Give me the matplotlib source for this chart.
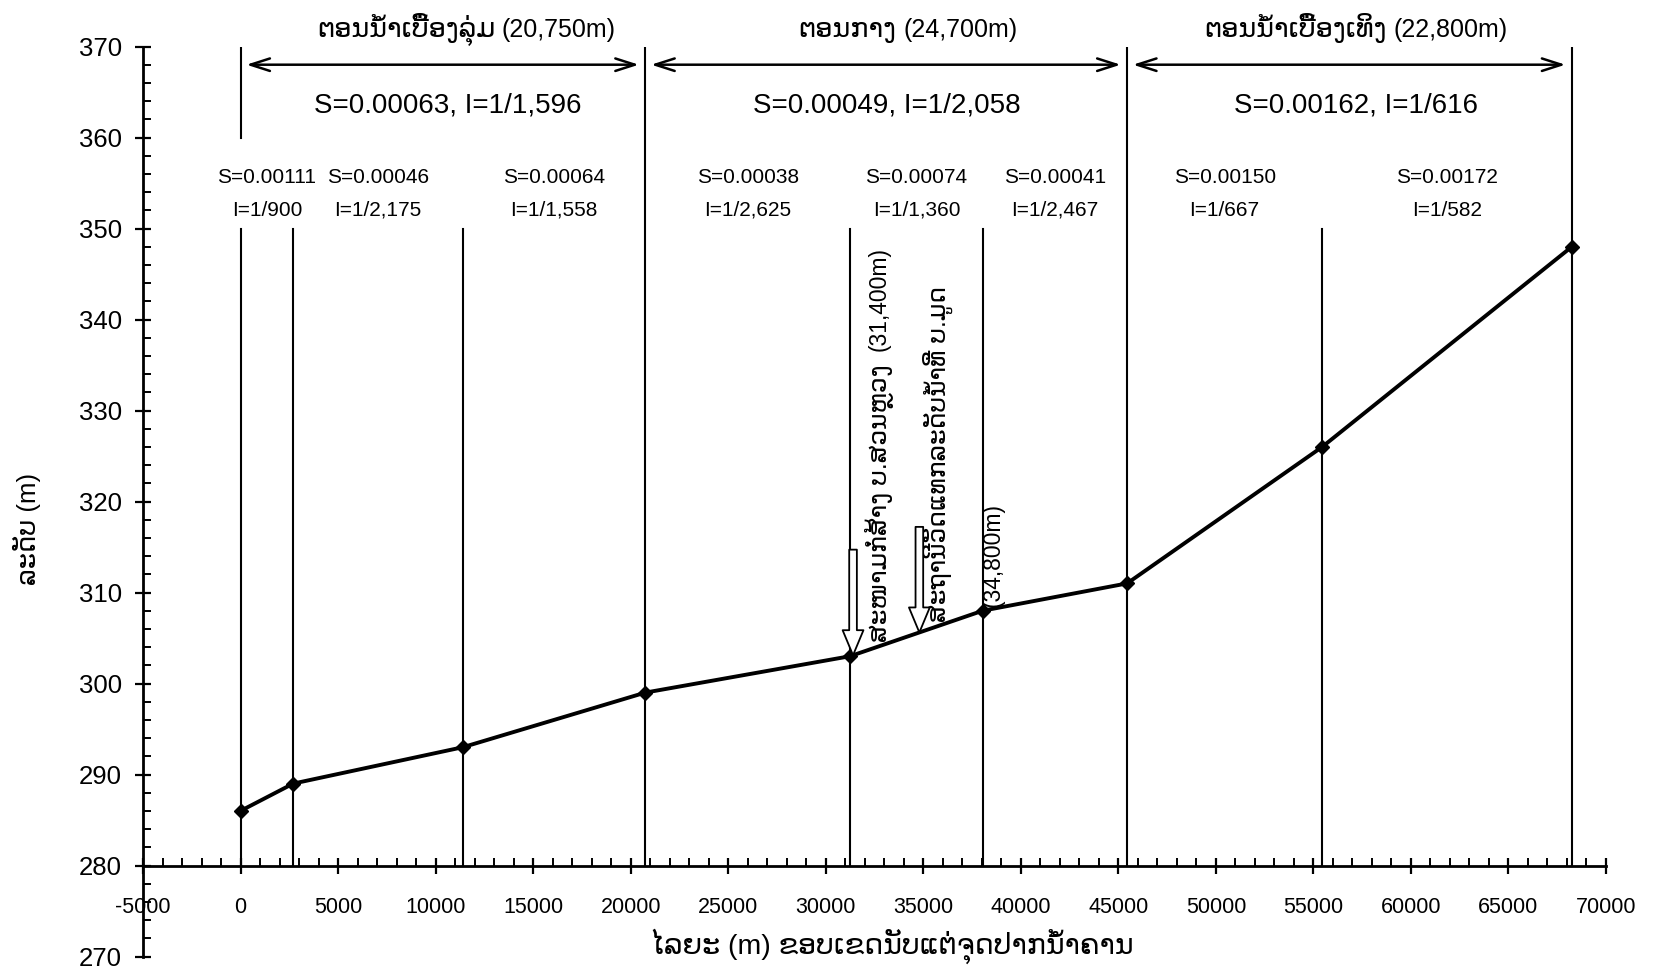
import matplotlib
matplotlib.use("Agg")
import matplotlib.pyplot as plt
import numpy as np
from matplotlib.ticker import MultipleLocator

# river profile: distance from river mouth (m) and bed elevation (m)
distance = [0, 2700, 11400, 20750, 31250, 38050, 45450, 55450, 68250]
elevation = [286, 289, 293, 299, 303, 308, 311, 326, 348]

# sub-reach slopes
sub_slope = ["S=0.00111", "S=0.00046", "S=0.00064", "S=0.00038", "S=0.00074",
             "S=0.00041", "S=0.00150", "S=0.00172"]
sub_incl = ["I=1/900", "I=1/2,175", "I=1/1,558", "I=1/2,625", "I=1/1,360",
            "I=1/2,467", "I=1/667", "I=1/582"]

# main reaches
reach_bounds = [0, 20750, 45450, 68250]
reach_names = ["ຕອນນ້ຳເບື້ອງລຸ່ມ", "ຕອນກາງ", "ຕອນນ້ຳເບື້ອງເທິງ"]
reach_lengths = ["(20,750m)", "(24,700m)", "(22,800m)"]
reach_slopes = ["S=0.00063, I=1/1,596", "S=0.00049, I=1/2,058", "S=0.00162, I=1/616"]

# point markers along the river
site_dist = [31400, 34800]
site_names = ["ສະໜາມກໍ່ສ້າງ ບ.ສວນຫຼວງ", "ສະຖານີວັດແທກລະດັບນ້ຳທີ່ ບ.ມູດ"]
site_chainage = ["(31,400m)", "(34,800m)"]

FONT = ["Liberation Sans", "DejaVu Sans"]
plt.rcParams["font.family"] = FONT
plt.rcParams["axes.unicode_minus"] = False

fig = plt.figure(figsize=(16.61, 9.74), dpi=100)
ax = fig.add_axes([143 / 1661, 1 - 956.5 / 974, 1463 / 1661, 910 / 974])

ax.set_xlim(-5000, 70000)
ax.set_ylim(270, 370)

for s in ("top", "right"):
    ax.spines[s].set_visible(False)
ax.spines["bottom"].set_position(("data", 280))
for s in ("bottom", "left"):
    ax.spines[s].set_linewidth(2.0)

ax.xaxis.set_major_locator(MultipleLocator(5000))
ax.xaxis.set_minor_locator(MultipleLocator(1000))
ax.yaxis.set_major_locator(MultipleLocator(10))
ax.yaxis.set_minor_locator(MultipleLocator(2))
ax.tick_params(which="major", direction="inout", length=12, width=1.6)
ax.tick_params(which="minor", direction="in", length=6, width=1.4)
ax.tick_params(axis="x", which="major", labelsize=15.5, pad=17)
ax.tick_params(axis="y", which="major", labelsize=18.5, pad=9)

# vertical division lines
sub_lines = [d for d in distance if d not in reach_bounds[1:]]
for d in sub_lines:
    ax.plot([d, d], [280, 350], color="black", lw=1.5, zorder=2)
for d in reach_bounds[1:]:
    ax.plot([d, d], [280, 370], color="black", lw=1.5, zorder=2)
ax.plot([0, 0], [360, 370], color="black", lw=1.5, zorder=2)

# profile line
ax.plot(distance, elevation, color="black", lw=2.8, marker="D", ms=7, zorder=4)

# sub-reach labels
mids = [(a + b) / 2 for a, b in zip(distance[:-1], distance[1:])]
for m, s, i in zip(mids, sub_slope, sub_incl):
    ax.text(m, 355.6, s, ha="center", va="center", fontsize=15)
    ax.text(m, 352.0, i, ha="center", va="center", fontsize=15)

# reach headings, arrows and slopes
length_x = [13400, 33970, 59100]
slope_x = [10600, 33130, 57200]
for k in range(3):
    a, b = reach_bounds[k], reach_bounds[k + 1]
    ax.annotate("", xy=(a + 300, 368), xytext=(b - 330, 368),
                arrowprops=dict(arrowstyle="<->,head_length=1.4,head_width=0.45",
                                lw=1.8, color="black", shrinkA=0, shrinkB=0))
    ax.text(length_x[k], 371.0, reach_lengths[k], ha="left", va="baseline",
            fontsize=18, clip_on=False)
    ax.text(length_x[k] - 350, 371.0, reach_names[k], ha="right", va="baseline",
            fontsize=19.5, clip_on=False)
    ax.text(slope_x[k], 363.5, reach_slopes[k], ha="center", va="center", fontsize=20)

# hollow arrows for sites
for d in site_dist:
    y0 = np.interp(d, distance, elevation)
    ax.annotate("", xy=(d, y0), xytext=(d, y0 + 11.6),
                arrowprops=dict(arrowstyle="simple,head_width=1.5,head_length=1.8,tail_width=0.55",
                                mutation_scale=10, fc="white", ec="black", lw=1.3,
                                shrinkA=0, shrinkB=0), zorder=5)

t1 = ax.text(32750, 304.6, site_names[0], rotation=90, ha="center", va="bottom", fontsize=18)
ax.annotate(site_chainage[0], xy=(0.5, 1), xycoords=t1, xytext=(0, 9),
            textcoords="offset points", rotation=90, ha="center", va="bottom", fontsize=16.5)
ax.text(35750, 306.8, site_names[1], rotation=90, ha="center", va="bottom", fontsize=18)
ax.text(38580, 308.4, site_chainage[1], rotation=90, ha="center", va="bottom", fontsize=16.5)

ax.set_ylabel("ລະດັບ (m)", fontsize=18.5)
ax.yaxis.set_label_coords(-0.070, 0.47)
ax.text(0.512, 0.0115, "ໄລຍະ (m) ຂອບເຂດນັບແຕ່ຈຸດປາກນ້ຳຄານ", transform=ax.transAxes,
        ha="center", va="center", fontsize=20.5)

fig.savefig("out.png", dpi=100)
